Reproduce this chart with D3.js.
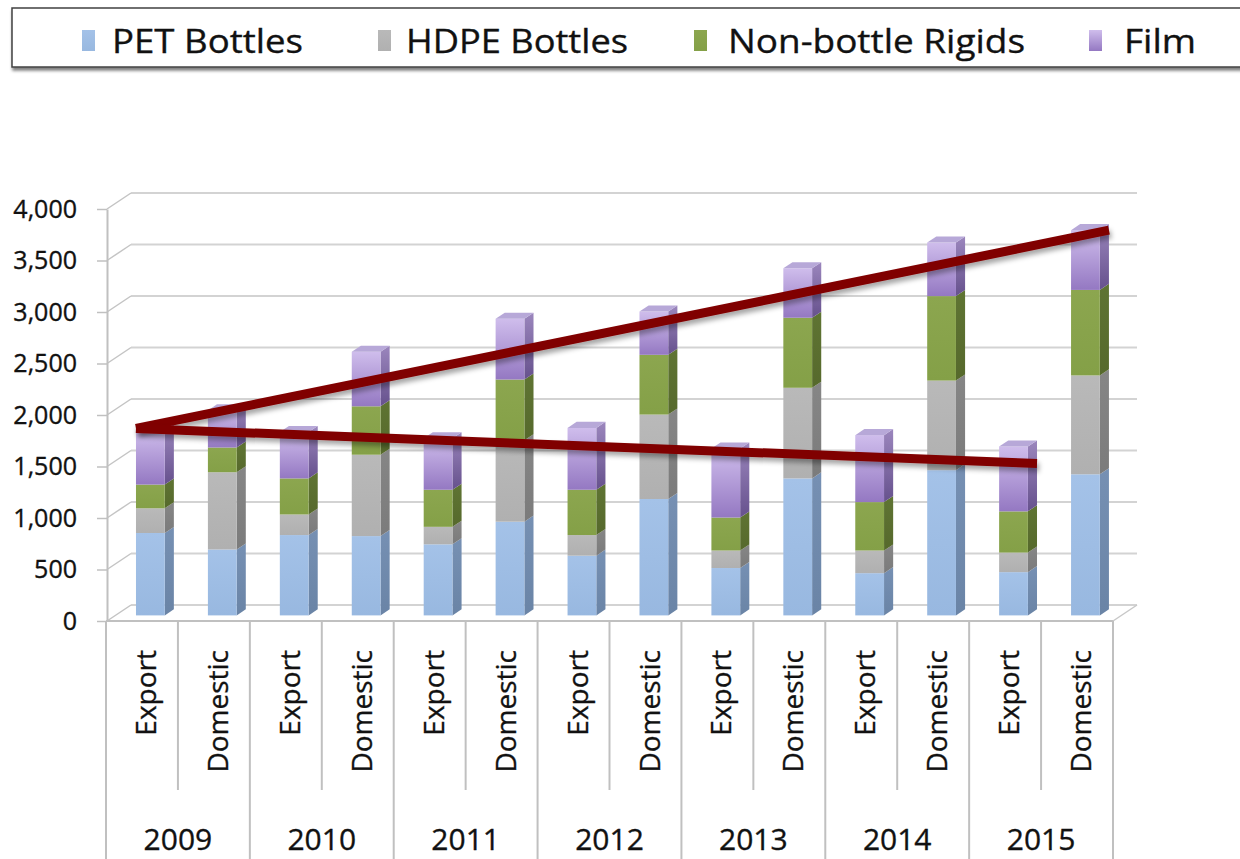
<!DOCTYPE html>
<html><head><meta charset="utf-8">
<script src="https://cdn.jsdelivr.net/npm/d3@7"></script>
<style>
body{margin:0;background:#fff}
svg{display:block}
text{font-family:"Open Sans",sans-serif;fill:#111;stroke:#111;stroke-width:0.35px}
</style>
</head><body>
<svg id="chart" width="1240" height="859"></svg>
<script>
// ---------------- DATA ----------------
const years = ["2009","2010","2011","2012","2013","2014","2015"];
const flows = ["Export","Domestic"];
const seriesNames = ["PET Bottles","HDPE Bottles","Non-bottle Rigids","Film"];
// order: 2009 Export, 2009 Domestic, 2010 Export, ...
const petBottles      = [800, 640, 780, 770, 690, 910, 580, 1130, 460, 1330, 410, 1410, 420, 1370];
const hdpeBottles     = [240, 750, 200, 790, 170, 790, 200,  820, 170,  880, 220,  870, 190,  960];
const nonBottleRigids = [230, 240, 350, 470, 360, 590, 440,  580, 320,  680, 470,  820, 400,  830];
const film            = [530, 360, 450, 530, 500, 590, 600,  420, 670,  480, 650,  520, 630,  580];
const yTickValues = [0,500,1000,1500,2000,2500,3000,3500,4000];
// hand-drawn trend lines (category index, value)
const trendUpper = [{idx:0, value:1815, edge:"left"}, {idx:13, value:3740, edge:"right"}];
const trendLower = [{idx:0, value:1815, edge:"left"}, {idx:12, value:1475, edge:"right"}];

// ---------------- SETUP ----------------
const svg = d3.select("#chart");
const keys = [];
years.forEach(yr => flows.forEach(f => keys.push(yr + "|" + f)));
const rows = keys.map((k, i) => ({
  key: k,
  "PET Bottles": petBottles[i],
  "HDPE Bottles": hdpeBottles[i],
  "Non-bottle Rigids": nonBottleRigids[i],
  "Film": film[i]
}));
const stacked = d3.stack().keys(seriesNames)(rows);

const x = d3.scaleBand().domain(keys).range([106, 1113]).padding(0);
const y = d3.scaleLinear().domain([0, 4000]).range([621, 209]);
const DX = 24, DY = -16;       // full depth of the plot box
const d0 = 0.35, db = 0.38;    // bar front depth and bar thickness (fractions)
const barW = x.bandwidth() * 0.40;
const bx = k => x(k) + (x.bandwidth() - barW) / 2 + d0 * DX;
const oy = d0 * DY;
const sdx = db * DX, sdy = db * DY;

// ---------------- DEFS ----------------
const defs = svg.append("defs");
function vgrad(id, stops) {
  const g = defs.append("linearGradient").attr("id", id)
    .attr("x1", 0).attr("y1", 0).attr("x2", 0).attr("y2", 1);
  stops.forEach(s => g.append("stop").attr("offset", s[0]).attr("stop-color", s[1]));
}
const style = {
  "PET Bottles":       {front:["#a4c2e8","#98b8e0"], side:["#7690b3","#6a84a6"], top:"#b8cde9"},
  "HDPE Bottles":      {front:["#b9b9b9","#b0b0b0"], side:["#868686","#7b7b7b"], top:"#cccccc"},
  "Non-bottle Rigids": {front:["#8ca64f","#84a047"], side:["#5f7433","#56692c"], top:"#a3b978"},
  "Film":              {front:["#cfbdec","#9478c2"], side:["#9b86bd","#66518d"], top:"#b7a8d8"}
};
seriesNames.forEach((s, i) => {
  vgrad("gf" + i, [[0, style[s].front[0]], [1, style[s].front[1]]]);
  vgrad("gs" + i, [[0, style[s].side[0]], [1, style[s].side[1]]]);
});
const sh = defs.append("filter").attr("id", "shadow").attr("x", "-10%").attr("y", "-50%").attr("width", "120%").attr("height", "200%");
sh.append("feDropShadow").attr("dx", 2).attr("dy", 4).attr("stdDeviation", 2.5).attr("flood-color", "#000").attr("flood-opacity", 0.35);
const lsh = defs.append("filter").attr("id", "lshadow").attr("x", "-5%").attr("y", "-50%").attr("width", "110%").attr("height", "200%");
lsh.append("feDropShadow").attr("dx", 1).attr("dy", 3).attr("stdDeviation", 1.5).attr("flood-color", "#000").attr("flood-opacity", 0.5);

// ---------------- LEGEND ----------------
const legend = svg.append("g");
legend.append("rect").attr("x", 12).attr("y", 8).attr("width", 1240).attr("height", 59)
  .attr("fill", "#fff").attr("stroke", "#404040").attr("stroke-width", 1.5).attr("filter", "url(#lshadow)");
const legendLayout = [
  {sx: 82, tx: 112, tw: 191},
  {sx: 378, tx: 406, tw: 222},
  {sx: 694, tx: 728, tw: 297},
  {sx: 1089, tx: 1124, tw: 72}
];
seriesNames.forEach((s, i) => {
  const L = legendLayout[i];
  legend.append("rect").attr("x", L.sx).attr("y", 30).attr("width", 13).attr("height", 21)
    .attr("fill", "url(#gf" + i + ")");
  legend.append("text").attr("x", L.tx).attr("y", 41).attr("dy", "0.36em")
    .attr("font-size", 33).attr("textLength", L.tw).attr("lengthAdjust", "spacingAndGlyphs")
    .text(s);
});

// ---------------- GRID (back wall) ----------------
const grid = svg.append("g");
yTickValues.forEach(v => {
  grid.append("line").attr("x1", 107 + DX).attr("x2", 1113 + DX)
    .attr("y1", y(v) + DY).attr("y2", y(v) + DY)
    .attr("stroke", "#d3d3d3").attr("stroke-width", 2);
  grid.append("line").attr("x1", 107).attr("y1", y(v)).attr("x2", 107 + DX).attr("y2", y(v) + DY)
    .attr("stroke", "#c4c4c4").attr("stroke-width", 1.5);
});
// floor
grid.append("line").attr("x1", 106).attr("x2", 1113).attr("y1", 621).attr("y2", 621)
  .attr("stroke", "#c0c0c0").attr("stroke-width", 2);
grid.append("line").attr("x1", 1113).attr("y1", 621).attr("x2", 1113 + DX).attr("y2", 621 + DY)
  .attr("stroke", "#c8c8c8").attr("stroke-width", 1.5);

// ---------------- Y AXIS ----------------
const yAxis = svg.append("g").attr("transform", "translate(107,0)")
  .call(d3.axisLeft(y).tickValues(yTickValues).tickFormat(d3.format(",")).tickSize(10).tickSizeOuter(0).tickPadding(20));
yAxis.select(".domain").attr("stroke", "#c0c0c0").attr("stroke-width", 2);
yAxis.selectAll(".tick line").attr("stroke", "#c0c0c0").attr("stroke-width", 1.5);
yAxis.selectAll(".tick text").attr("font-size", 25).attr("font-family", "Open Sans").attr("fill", "#111");

// ---------------- CATEGORY TABLE ----------------
const cat = svg.append("g");
keys.concat(["end"]).forEach((k, i) => {
  const xx = i < keys.length ? x(k) : x.range()[1];
  const full = (i % 2 === 0);
  cat.append("line").attr("x1", xx).attr("x2", xx).attr("y1", 621).attr("y2", full ? 859 : 790)
    .attr("stroke", "#c0c0c0").attr("stroke-width", 2);
});
keys.forEach(k => {
  const [yr, f] = k.split("|");
  const cx = x(k) + x.bandwidth() / 2 + 4;
  cat.append("text").attr("transform", `translate(${cx},650) rotate(-90)`)
    .attr("text-anchor", "end").attr("dy", "0.36em").attr("font-size", 28).text(f);
});
years.forEach(yr => {
  const cx = x(yr + "|Export") + x.bandwidth();
  cat.append("text").attr("x", cx).attr("y", 850)
    .attr("text-anchor", "middle").attr("font-size", 30).text(yr);
});

// ---------------- BARS ----------------
const bars = svg.append("g");
keys.forEach((k, i) => {
  const g = bars.append("g");
  const x0 = bx(k), x1 = x0 + barW;
  stacked.forEach((layer, si) => {
    const d = layer[i];
    const yt = y(d[1]) + oy, yb = y(d[0]) + oy;
    g.append("path")
      .attr("d", `M${x1},${yt}L${x1 + sdx},${yt + sdy}L${x1 + sdx},${yb + sdy}L${x1},${yb}Z`)
      .attr("fill", "url(#gs" + si + ")");
    g.append("rect").attr("x", x0).attr("y", yt).attr("width", barW).attr("height", Math.max(0, yb - yt))
      .attr("fill", "url(#gf" + si + ")");
    if (si === stacked.length - 1) {
      g.append("path")
        .attr("d", `M${x0},${yt}L${x1},${yt}L${x1 + sdx},${yt + sdy}L${x0 + sdx},${yt + sdy}Z`)
        .attr("fill", style[seriesNames[si]].top);
    }
  });
});

// ---------------- TREND LINES ----------------
function trendPoint(p) {
  const k = keys[p.idx];
  const xx = p.edge === "left" ? bx(k) : bx(k) + barW + sdx;
  return [xx, y(p.value) + oy];
}
const lineGen = d3.line();
[trendUpper, trendLower].forEach(t => {
  svg.append("path").attr("d", lineGen(t.map(trendPoint)))
    .attr("fill", "none").attr("stroke", "#800000").attr("stroke-width", 9)
    .attr("stroke-linecap", "butt").attr("filter", "url(#shadow)");
});
</script>
</body></html>
